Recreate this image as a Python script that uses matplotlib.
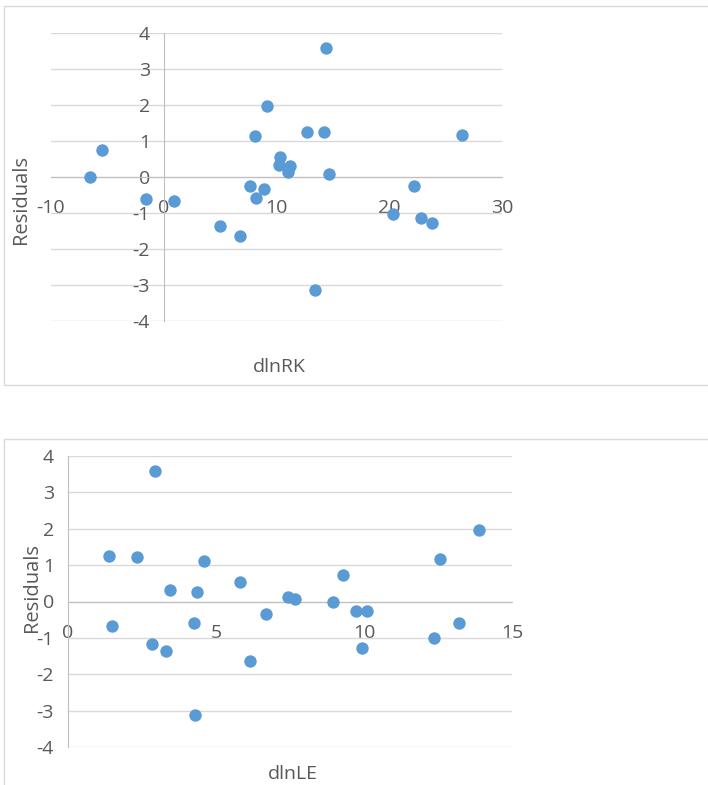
import matplotlib.pyplot as plt
from matplotlib.patches import Rectangle

# residual plots
rk_x = [-6.5, -5.44, -1.6, 0.89, 5.03, 6.74, 7.63, 8.07, 8.16, 8.87, 9.16, 10.23, 10.29,
        11.06, 11.23, 12.71, 13.42, 14.19, 14.4, 14.63, 20.31, 22.17, 22.82, 23.83, 26.46]
rk_res = [0.0, 0.74, -0.61, -0.67, -1.37, -1.64, -0.24, 1.13, -0.57, -0.33, 1.96, 0.33, 0.56,
          0.14, 0.30, 1.26, -3.14, 1.25, 3.58, 0.07, -1.02, -0.24, -1.14, -1.29, 1.17]

le_x = [1.39, 1.50, 2.34, 2.85, 2.95, 3.32, 3.46, 4.25, 4.30, 4.36, 4.58, 5.82, 6.14,
        6.69, 7.43, 7.68, 8.94, 9.29, 9.74, 9.93, 10.11, 12.36, 12.57, 13.22, 13.90]
le_res = [1.25, -0.67, 1.22, -1.16, 3.59, -1.37, 0.31, -0.58, -3.13, 0.26, 1.11, 0.53, -1.64,
          -0.35, 0.13, 0.06, 0.0, 0.74, -0.27, -1.29, -0.26, -1.0, 1.16, -0.6, 1.96]

y_ticks = list(range(-4, 5))
rk_ticks = [-10, 0, 10, 20, 30]
le_ticks = [0, 5, 10, 15]

dot = "#5b9bd5"
txt = "#595959"
W, H = 708, 785

plt.rcParams['font.family'] = ['Open Sans', 'DejaVu Sans']
plt.rcParams['axes.unicode_minus'] = False

fig = plt.figure(figsize=(W / 100, H / 100), dpi=100)

# chart frames
fig.patches.append(Rectangle((4 / W, 1 - 385 / H), 720 / W, 379 / H, transform=fig.transFigure,
                             fill=False, edgecolor="#d9d9d9", lw=1))
fig.patches.append(Rectangle((4 / W, -0.05), 720 / W, 1 - 439 / H + 0.05, transform=fig.transFigure,
                             fill=False, edgecolor="#d9d9d9", lw=1))


def style(ax, xticks):
    ax.set_ylim(-4, 4)
    ax.set_xlim(xticks[0], xticks[-1])
    ax.set_xticks(xticks)
    ax.set_yticks(y_ticks)
    ax.yaxis.grid(True, color="#d9d9d9", lw=1)
    ax.set_axisbelow(True)
    for s in ["top", "right"]:
        ax.spines[s].set_visible(False)
    ax.spines["left"].set_position(("data", 0))
    ax.spines["bottom"].set_position(("data", 0))
    ax.spines["left"].set_color("#bfbfbf")
    ax.spines["bottom"].set_color("#bfbfbf")
    ax.tick_params(axis="x", length=0, pad=16, labelsize=14, labelcolor=txt)
    ax.tick_params(axis="y", length=0, pad=10, labelsize=14, labelcolor=txt)


ax1 = fig.add_axes([51 / W, 1 - 321 / H, 451 / W, 288 / H])
ax1.scatter(rk_x, rk_res, s=80, color=dot, zorder=3, linewidths=0)
style(ax1, rk_ticks)
fig.text(279 / W, 1 - 367 / H, "dlnRK", ha="center", va="center", fontsize=14, color=txt)
fig.text(21 / W, 1 - 200 / H, "Residuals", ha="center", va="center", fontsize=14.5,
         color=txt, rotation=90)

ax2 = fig.add_axes([68 / W, 1 - 747 / H, 444 / W, 291 / H])
ax2.scatter(le_x, le_res, s=80, color=dot, zorder=3, linewidths=0)
style(ax2, le_ticks)
fig.text(293 / W, 1 - 774 / H, "dlnLE", ha="center", va="center", fontsize=14, color=txt)
fig.text(32 / W, 1 - 587 / H, "Residuals", ha="center", va="center", fontsize=14.5,
         color=txt, rotation=90)

fig.savefig("out.png", dpi=100)
